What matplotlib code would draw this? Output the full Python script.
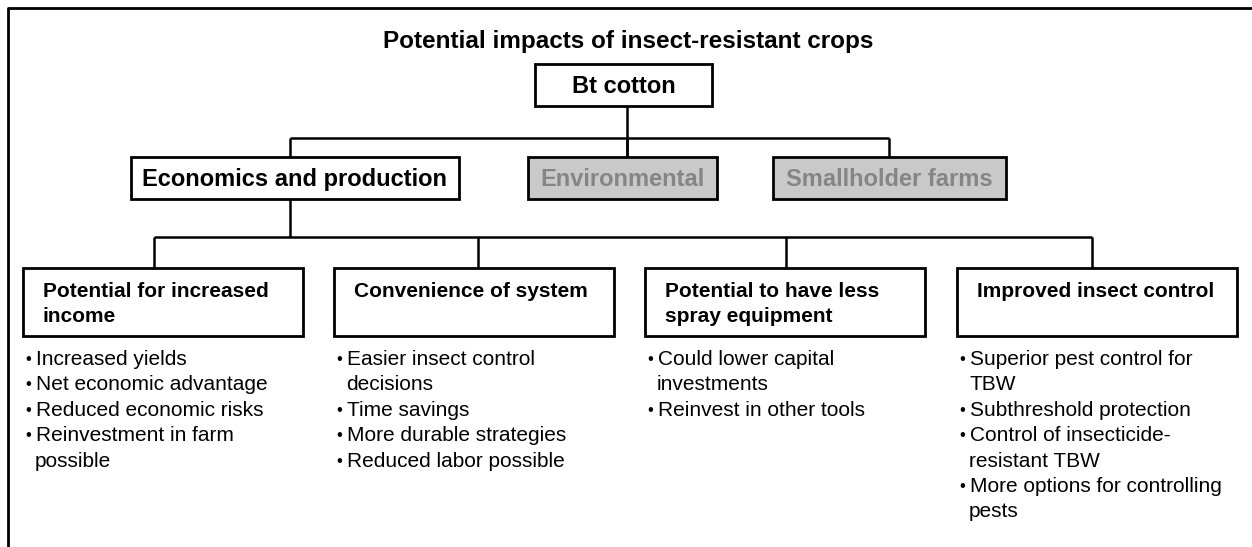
import matplotlib.pyplot as plt
from matplotlib.patches import Rectangle

# Texts of the chart
title = "Potential impacts of insect-resistant crops"
root = "Bt cotton"
branches = ["Economics and production", "Environmental", "Smallholder farms"]
branch_active = [True, False, False]
sub_titles = ["Potential for increased\nincome",
              "Convenience of system",
              "Potential to have less\nspray equipment",
              "Improved insect control"]
sub_items = [
    ["Increased yields", "Net economic advantage", "Reduced economic risks",
     "Reinvestment in farm\npossible"],
    ["Easier insect control\ndecisions", "Time savings", "More durable strategies",
     "Reduced labor possible"],
    ["Could lower capital\ninvestments", "Reinvest in other tools"],
    ["Superior pest control for\nTBW", "Subthreshold protection",
     "Control of insecticide-\nresistant TBW", "More options for controlling\npests"],
]

# layout in pixels (y goes down)
W, H = 1252, 547
root_box = (535, 64, 712, 106)
branch_boxes = [(131, 157, 459, 199), (528, 157, 717, 199), (773, 157, 1006, 199)]
branch_drop = [290, 627, 889]
sub_left = [23, 334, 645, 957]
sub_w = 280
sub_top, sub_bot = 268, 336
sub_drop = [154, 478, 786, 1092]
line_h = 25.4

plt.rcParams['font.family'] = ['Liberation Sans', 'DejaVu Sans']


def box(ax, b, fill='white'):
    x0, y0, x1, y1 = b
    ax.add_patch(Rectangle((x0, y0), x1 - x0, y1 - y0, facecolor=fill,
                           edgecolor='black', lw=2.0, zorder=2))


def line(ax, xs, ys):
    ax.plot(xs, ys, color='black', lw=1.8, solid_capstyle='butt', zorder=1)


def main():
    fig = plt.figure(figsize=(W / 100, H / 100), dpi=100)
    ax = fig.add_axes([0, 0, 1, 1])
    ax.set_xlim(0, W)
    ax.set_ylim(H, 0)
    ax.axis('off')

    # frame (top and left only)
    ax.plot([8, 8, W], [H, 7.5, 7.5], color='black', lw=2.0, solid_capstyle='butt')

    ax.text(628, 48, title, ha='center', va='baseline', fontsize=17.5, fontweight='bold')

    # root
    box(ax, root_box)
    ax.text((root_box[0] + root_box[2]) / 2, 93, root, ha='center', va='baseline',
            fontsize=17, fontweight='bold')

    # connectors root -> branches
    line(ax, [627, 627], [root_box[3], branch_boxes[1][1]])
    line(ax, [branch_drop[0], branch_drop[-1]], [138, 138])
    for x in branch_drop:
        line(ax, [x, x], [138, 157])

    for b, name, on in zip(branch_boxes, branches, branch_active):
        box(ax, b, 'white' if on else '#c9c9c9')
        ax.text((b[0] + b[2]) / 2, 186, name, ha='center', va='baseline',
                fontsize=17, fontweight='bold', color='black' if on else '#858585')

    # connectors economics -> sub boxes
    line(ax, [branch_drop[0], branch_drop[0]], [199, 237])
    line(ax, [sub_drop[0], sub_drop[-1]], [237, 237])
    for x in sub_drop:
        line(ax, [x, x], [237, sub_top])

    for i in range(len(sub_titles)):
        x0 = sub_left[i]
        box(ax, (x0, sub_top, x0 + sub_w, sub_bot))
        for k, t in enumerate(sub_titles[i].split('\n')):
            ax.text(x0 + 20, 297 + k * line_h, t, ha='left', va='baseline',
                    fontsize=15, fontweight='bold')
        y = 365
        for item in sub_items[i]:
            parts = item.split('\n')
            ax.text(x0 + 2, y - 1, '\u2022', ha='left', va='baseline', fontsize=12)
            for k, t in enumerate(parts):
                ax.text(x0 + (13 if k == 0 else 12), y, t, ha='left', va='baseline',
                        fontsize=15)
                y += line_h

    plt.savefig('out.png', dpi=100)


main()
